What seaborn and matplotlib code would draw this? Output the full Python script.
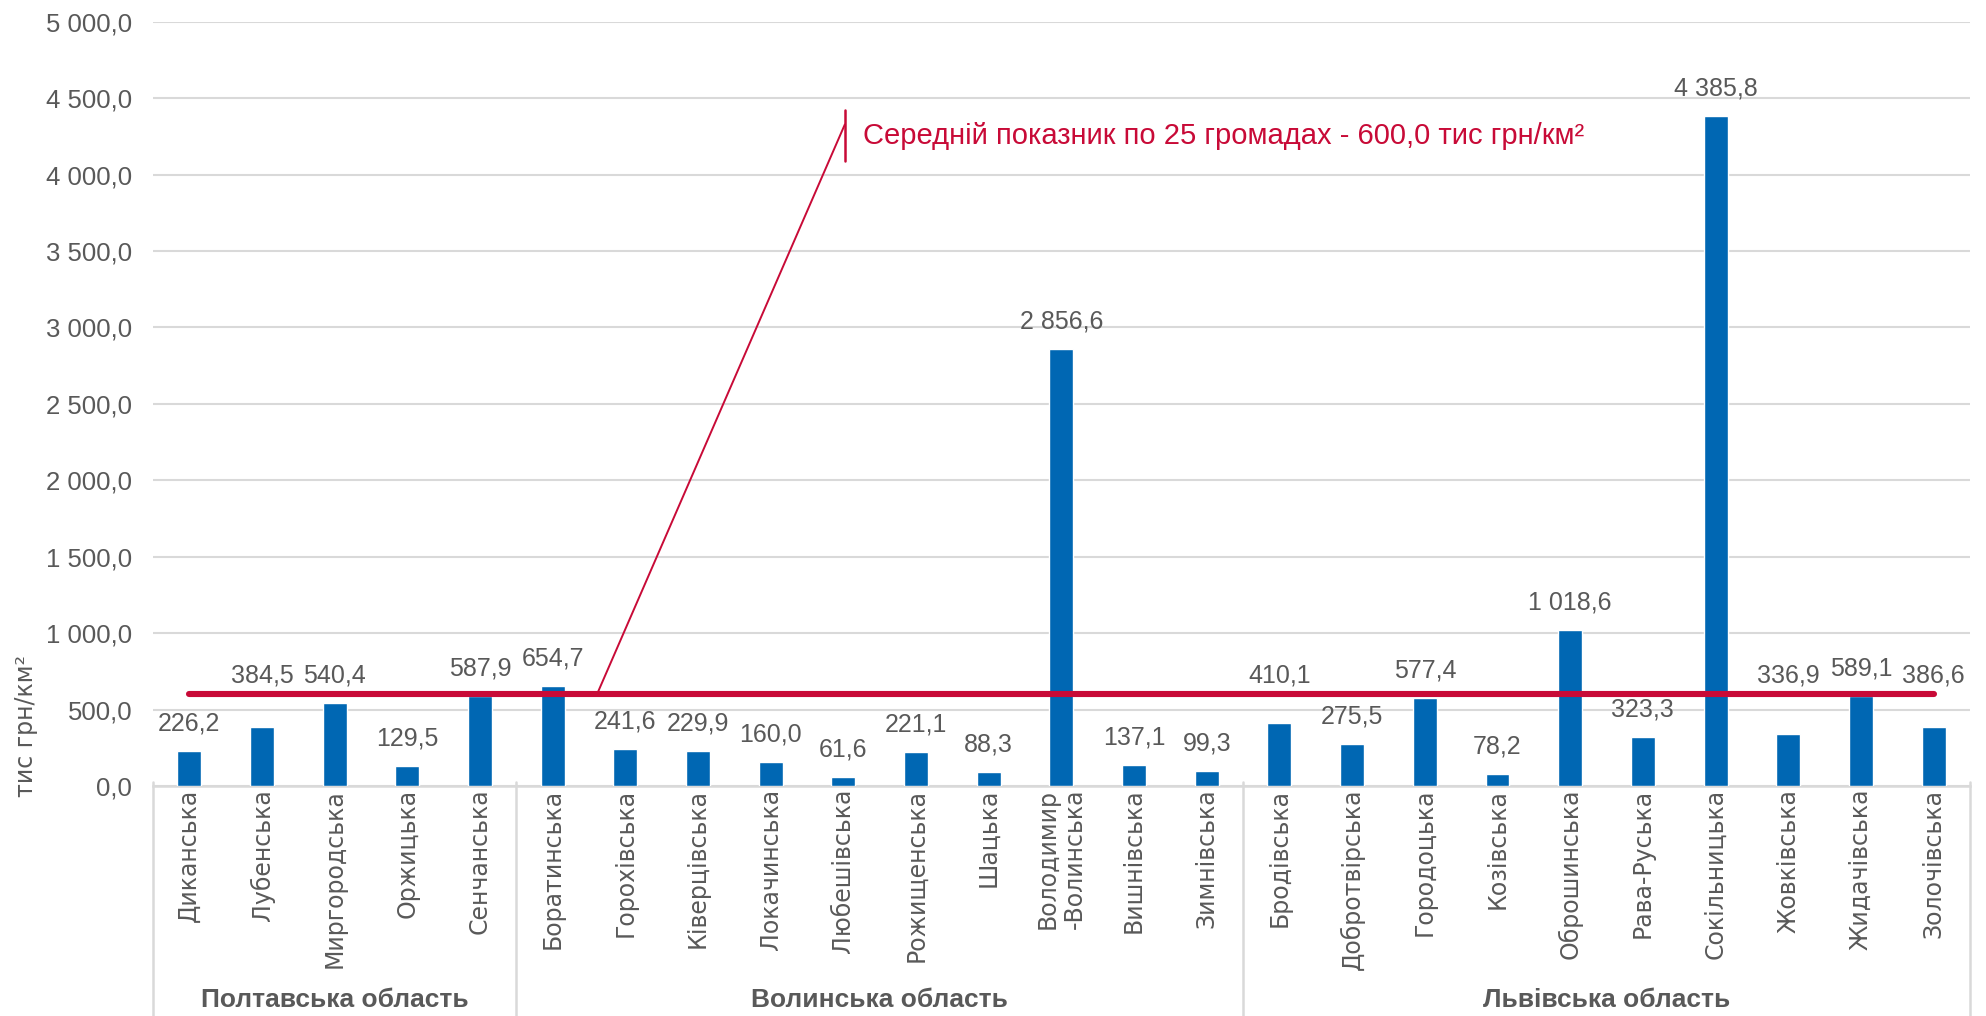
import numpy as np
import pandas as pd
import matplotlib.pyplot as plt
import matplotlib.transforms as mtransforms
from matplotlib.ticker import FuncFormatter
import seaborn as sns

# Дані: щільність показника по громадах, тис грн/км2
regions = ["Полтавська область", "Волинська область", "Львівська область"]

names_poltava = ["Диканська", "Лубенська", "Миргородська", "Оржицька", "Сенчанська"]
values_poltava = [226.2, 384.5, 540.4, 129.5, 587.9]

names_volyn = ["Боратинська", "Горохівська", "Ківерцівська", "Локачинська", "Любешівська",
               "Рожищенська", "Шацька", "Володимир\n-Волинська", "Вишнівська", "Зимнівська"]
values_volyn = [654.7, 241.6, 229.9, 160.0, 61.6, 221.1, 88.3, 2856.6, 137.1, 99.3]

names_lviv = ["Бродівська", "Добротвірська", "Городоцька", "Козівська", "Оброшинська",
              "Рава-Руська", "Сокільницька", "Жовківська", "Жидачівська", "Золочівська"]
values_lviv = [410.1, 275.5, 577.4, 78.2, 1018.6, 323.3, 4385.8, 336.9, 589.1, 386.6]

y_ticks = np.arange(0, 5001, 500)

BAR = "#0067B3"
RED = "#C80A37"
GRID = "#D9D9D9"
TXT = "#595959"

names = names_poltava + names_volyn + names_lviv
values = values_poltava + values_volyn + values_lviv
group_sizes = [len(names_poltava), len(names_volyn), len(names_lviv)]
df = pd.DataFrame({
    "community": names,
    "value": values,
    "region": np.repeat(regions, group_sizes),
})
mean_value = df["value"].mean()
n = len(df)


def fmt(v, pos=None):
    return f"{v:,.1f}".replace(",", " ").replace(".", ",")


sns.set_theme(style="white")
plt.rcParams["font.family"] = ["Liberation Sans", "DejaVu Sans"]

fig = plt.figure(figsize=(19.86, 10.16), dpi=100)
ax = fig.add_axes([0.077, 0.2264, 0.9149, 0.7522])

sns.barplot(data=df, x="community", y="value", color=BAR, width=0.33,
            saturation=1, ax=ax, zorder=3)

# середня лінія
ax.plot(np.arange(n), np.full(n, mean_value), color=RED, lw=4.4,
        solid_capstyle="round", zorder=4)

# підписи значень (ті, що налазять на середню лінію, піднято над нею)
for i, v in enumerate(df["value"]):
    y = v + 180
    if abs(y - mean_value) < 95:
        y = mean_value + 120
    ax.text(i, y, fmt(v), ha="center", va="center", fontsize=18, color=TXT, zorder=5)

ax.set_xlim(-0.5, n - 0.5)
ax.set_ylim(0, 5000)
ax.set_yticks(y_ticks)
ax.yaxis.set_major_formatter(FuncFormatter(fmt))
ax.yaxis.grid(True, color=GRID, lw=1.5, zorder=0)
ax.tick_params(axis="y", length=0, pad=15, labelsize=18.5, labelcolor=TXT)
ax.tick_params(axis="x", length=0, pad=2)
for s in ["left", "right", "top"]:
    ax.spines[s].set_visible(False)
ax.spines["bottom"].set_color(GRID)
ax.spines["bottom"].set_linewidth(1.8)

ax.set_xticks(range(n))
ax.set_xticklabels(df["community"], rotation=90, ha="center", va="top",
                   fontsize=17, color=TXT, family="DejaVu Sans", linespacing=1.15)
for lab in ax.get_xticklabels():
    lab.set_multialignment("right")
ax.set_xlabel("")
ax.set_ylabel("")

# розділювачі областей та їх назви
trans = mtransforms.blended_transform_factory(ax.transData, ax.transAxes)
edges = np.concatenate([[0], np.cumsum(group_sizes)]) - 0.5
for e in edges:
    ax.plot([e, e], [0.005, -0.31], color=GRID, lw=1.8, transform=trans, clip_on=False)
for k, reg in enumerate(regions):
    ax.text((edges[k] + edges[k + 1]) / 2, -0.28, reg, transform=trans, ha="center",
            va="center", fontsize=19, fontweight="bold", color=TXT)

fig.text(0.013, 0.285, "тис грн/км²", rotation=90, ha="center", va="center",
         fontsize=17, color=TXT, family="DejaVu Sans")

# виноска до середньої лінії
ax.plot([5.61, 9.02], [mean_value, 4328], color=RED, lw=1.4, zorder=4)
ax.plot([9.02, 9.02], [4092, 4420], color=RED, lw=1.8, zorder=4)
ax.text(9.27, 4250, f"Середній показник по 25 громадах - {fmt(mean_value)} тис грн/км²",
        ha="left", va="center", fontsize=21, color=RED)

fig.savefig("out.png", dpi=100)
